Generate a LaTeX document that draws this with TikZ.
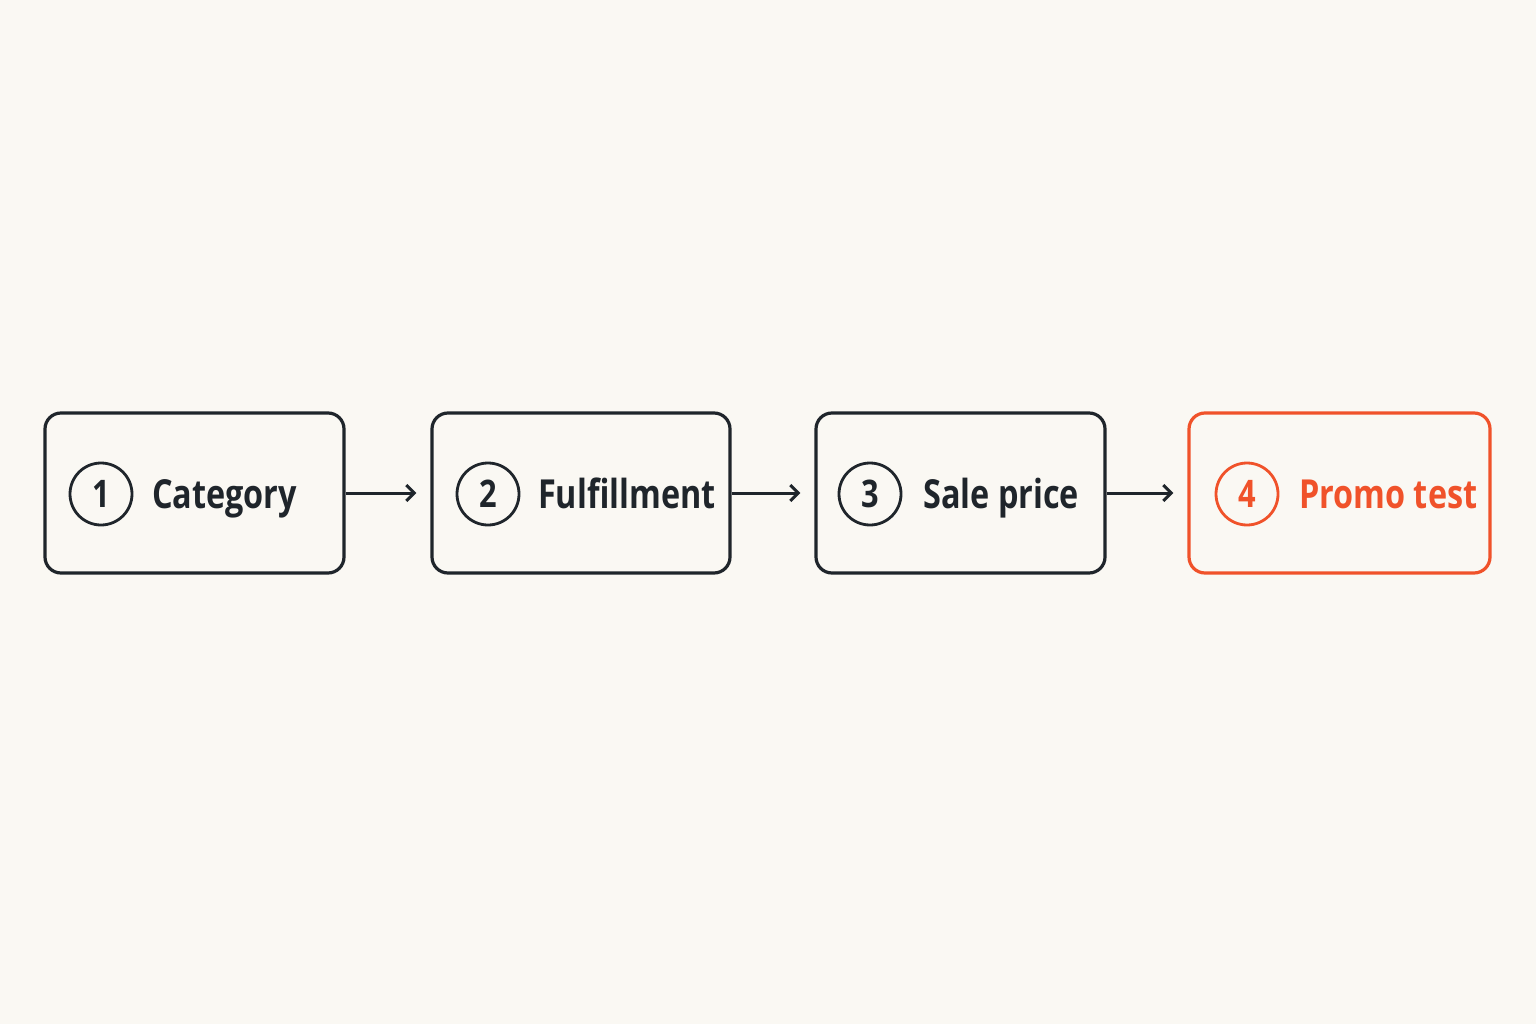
\documentclass[tikz,border=0pt]{standalone}
\usepackage{fontspec}
\setmainfont{Open Sans}[FakeStretch=0.81]
\usetikzlibrary{arrows.meta}
\definecolor{bg}{HTML}{FAF8F3}
\definecolor{ink}{HTML}{1F252B}
\definecolor{accent}{HTML}{F0522A}
\tikzset{
  stepbox/.style={draw=ink, line width=3.2pt, rounded corners=16pt, minimum height=160pt, inner sep=0pt},
  numcirc/.style={draw=ink, circle, line width=2.8pt, minimum size=62pt, inner sep=0pt, font=\fontsize{38}{38}\selectfont\bfseries, text=ink},
  steplabel/.style={anchor=base west, font=\fontsize{40}{40}\selectfont\bfseries, text=ink, inner sep=0pt},
  flow/.style={draw=ink, line width=3pt, -{Straight Barb[length=8pt,width=16pt,line width=3pt]}, shorten >=14pt},
}
\begin{document}
\begin{tikzpicture}[x=1pt,y=-1pt]
\fill[bg] (0,0) rectangle (1536,1024);
\useasboundingbox (0,0) rectangle (1536,1024);
\node[stepbox, minimum width=299pt] (b1) at (194.5,493) {};
\node[stepbox, minimum width=298pt] (b2) at (581,493) {};
\node[stepbox, minimum width=289pt] (b3) at (960.5,493) {};
\node[stepbox, draw=accent, minimum width=301pt] (b4) at (1339.5,493) {};
\node[numcirc] (c1) at (101,494) {1};
\node[numcirc] (c2) at (488,494) {2};
\node[numcirc] (c3) at (870,494) {3};
\node[numcirc, draw=accent, text=accent] (c4) at (1247,494) {4};
\node[steplabel] (t1) at (152,508) {Category};
\node[steplabel] (t2) at (538,508) {Fulfillment};
\node[steplabel] (t3) at (923,508) {Sale price};
\node[steplabel, text=accent] (t4) at (1299,508) {Promo test};
\draw[flow] (b1.east) -- (b2.west);
\draw[flow] (b2.east) -- (b3.west);
\draw[flow] (b3.east) -- (b4.west);
\end{tikzpicture}
\end{document}
